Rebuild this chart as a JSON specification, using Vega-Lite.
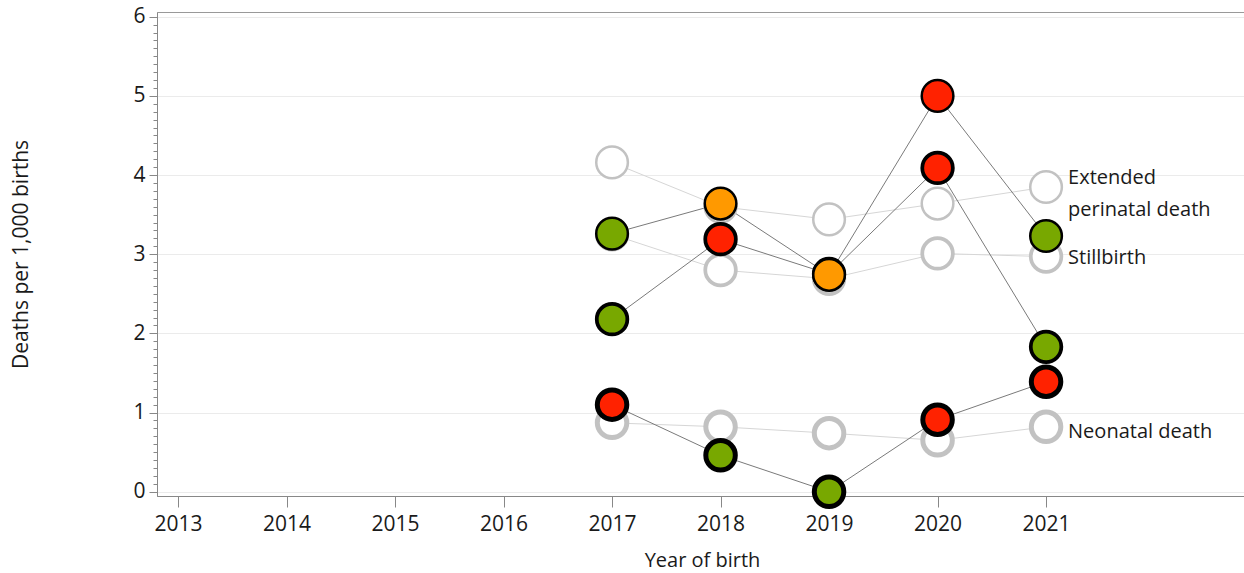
{
  "$schema": "https://vega.github.io/schema/vega-lite/v6.json",
  "width": 1090,
  "height": 484,
  "autosize": "none",
  "padding": {"left": 157, "top": 12, "right": 0, "bottom": 77},
  "config": {
    "view": {"stroke": "#999999", "strokeWidth": 1},
    "font": "Open Sans",
    "axis": {"labelFont": "Open Sans", "titleFont": "Open Sans", "labelColor": "#1a1a1a", "titleColor": "#1a1a1a", "titleFontWeight": "normal", "domainColor": "#888888", "tickColor": "#888888"}
  },
  "datasets": {
    "comp": [
      {"year": 2017, "measure": "Extended perinatal death", "value": 4.16},
      {"year": 2018, "measure": "Extended perinatal death", "value": 3.6},
      {"year": 2019, "measure": "Extended perinatal death", "value": 3.44},
      {"year": 2020, "measure": "Extended perinatal death", "value": 3.64},
      {"year": 2021, "measure": "Extended perinatal death", "value": 3.85},
      {"year": 2017, "measure": "Stillbirth", "value": 3.25},
      {"year": 2018, "measure": "Stillbirth", "value": 2.8},
      {"year": 2019, "measure": "Stillbirth", "value": 2.69},
      {"year": 2020, "measure": "Stillbirth", "value": 3.01},
      {"year": 2021, "measure": "Stillbirth", "value": 2.97},
      {"year": 2017, "measure": "Neonatal death", "value": 0.87},
      {"year": 2018, "measure": "Neonatal death", "value": 0.82},
      {"year": 2019, "measure": "Neonatal death", "value": 0.74},
      {"year": 2020, "measure": "Neonatal death", "value": 0.65},
      {"year": 2021, "measure": "Neonatal death", "value": 0.82}
    ],
    "act": [
      {"year": 2017, "measure": "Stillbirth", "value": 2.18, "status": "green"},
      {"year": 2018, "measure": "Stillbirth", "value": 3.19, "status": "red"},
      {"year": 2019, "measure": "Stillbirth", "value": 2.75, "status": "green"},
      {"year": 2020, "measure": "Stillbirth", "value": 4.09, "status": "red"},
      {"year": 2021, "measure": "Stillbirth", "value": 1.83, "status": "green"},
      {"year": 2017, "measure": "Neonatal death", "value": 1.1, "status": "red"},
      {"year": 2018, "measure": "Neonatal death", "value": 0.46, "status": "green"},
      {"year": 2019, "measure": "Neonatal death", "value": 0.0, "status": "green"},
      {"year": 2020, "measure": "Neonatal death", "value": 0.91, "status": "red"},
      {"year": 2021, "measure": "Neonatal death", "value": 1.39, "status": "red"},
      {"year": 2017, "measure": "Extended perinatal death", "value": 3.26, "status": "green"},
      {"year": 2018, "measure": "Extended perinatal death", "value": 3.64, "status": "amber"},
      {"year": 2019, "measure": "Extended perinatal death", "value": 2.74, "status": "amber"},
      {"year": 2020, "measure": "Extended perinatal death", "value": 5.0, "status": "red"},
      {"year": 2021, "measure": "Extended perinatal death", "value": 3.23, "status": "green"}
    ],
    "labels": [
      {"year": 2021, "value": 3.96, "text": "Extended"},
      {"year": 2021, "value": 3.56, "text": "perinatal death"},
      {"year": 2021, "value": 2.95, "text": "Stillbirth"},
      {"year": 2021, "value": 0.75, "text": "Neonatal death"}
    ]
  },
  "resolve": {"axis": {"y": "independent"}},
  "layer": [
    {
      "data": {"name": "comp"},
      "mark": {"type": "line", "color": "#d6d6d6", "strokeWidth": 1},
      "encoding": {
        "x": {"field": "year", "type": "quantitative", "scale": {"domain": [2012.806, 2022.852], "nice": false, "zero": false},
          "axis": {"title": "Year of birth", "values": [2013, 2014, 2015, 2016, 2017, 2018, 2019, 2020, 2021], "format": "d", "labelFontSize": 21, "titleFontSize": 20, "tickSize": 11, "labelPadding": 6, "titlePadding": 16, "grid": false}},
        "y": {"field": "value", "type": "quantitative", "scale": {"domain": [-0.054, 6.06], "nice": false, "zero": false},
          "axis": {"orient": "left", "title": "Deaths per 1,000 births", "values": [0, 1, 2, 3, 4, 5, 6], "labelFontSize": 21, "titleFontSize": 21, "tickSize": 8, "labelPadding": 4, "titlePadding": 101, "grid": true, "gridColor": "#ebebeb", "gridWidth": 1}},
        "detail": {"field": "measure"}
      }
    },
    {
      "data": {"name": "act"},
      "mark": {"type": "line", "color": "#7a7a7a", "strokeWidth": 1},
      "encoding": {
        "x": {"field": "year", "type": "quantitative"},
        "y": {"field": "value", "type": "quantitative",
          "axis": {"orient": "left", "title": null, "labels": false, "grid": false, "domain": false, "tickSize": 4, "values": [0,0.1,0.2,0.3,0.4,0.5,0.6,0.7,0.8,0.9,1,1.1,1.2,1.3,1.4,1.5,1.6,1.7,1.8,1.9,2,2.1,2.2,2.3,2.4,2.5,2.6,2.7,2.8,2.9,3,3.1,3.2,3.3,3.4,3.5,3.6,3.7,3.8,3.9,4,4.1,4.2,4.3,4.4,4.5,4.6,4.7,4.8,4.9,5,5.1,5.2,5.3,5.4,5.5,5.6,5.7,5.8,5.9,6]}},
        "detail": {"field": "measure"}
      }
    },
    {
      "data": {"name": "comp"},
      "mark": {"type": "point", "shape": "circle", "filled": false, "fill": "white", "fillOpacity": 1, "stroke": "#c2c2c2", "opacity": 1},
      "encoding": {
        "x": {"field": "year", "type": "quantitative"},
        "y": {"field": "value", "type": "quantitative", "axis": null},
        "size": {"field": "measure", "type": "ordinal", "scale": {"domain": ["Extended perinatal death", "Stillbirth", "Neonatal death"], "range": [1000, 870, 760]}, "legend": null},
        "strokeWidth": {"field": "measure", "type": "ordinal", "scale": {"domain": ["Extended perinatal death", "Stillbirth", "Neonatal death"], "range": [2.5, 5, 7]}, "legend": null}
      }
    },
    {
      "data": {"name": "act"},
      "mark": {"type": "point", "shape": "circle", "filled": true, "stroke": "black", "opacity": 1, "fillOpacity": 1, "strokeOpacity": 1},
      "encoding": {
        "x": {"field": "year", "type": "quantitative"},
        "y": {"field": "value", "type": "quantitative", "axis": null},
        "fill": {"field": "status", "type": "nominal", "scale": {"domain": ["green", "amber", "red"], "range": ["#78a800", "#ff9900", "#ff2200"]}, "legend": null},
        "size": {"field": "measure", "type": "ordinal", "scale": {"domain": ["Extended perinatal death", "Stillbirth", "Neonatal death"], "range": [1020, 880, 790]}, "legend": null},
        "strokeWidth": {"field": "measure", "type": "ordinal", "scale": {"domain": ["Extended perinatal death", "Stillbirth", "Neonatal death"], "range": [2, 5, 8.5]}, "legend": null}
      }
    },
    {
      "data": {"name": "labels"},
      "mark": {"type": "text", "align": "left", "baseline": "middle", "dx": 22, "fontSize": 20, "font": "Open Sans", "color": "#1a1a1a"},
      "encoding": {
        "x": {"field": "year", "type": "quantitative"},
        "y": {"field": "value", "type": "quantitative", "axis": null},
        "text": {"field": "text"}
      }
    }
  ]
}
